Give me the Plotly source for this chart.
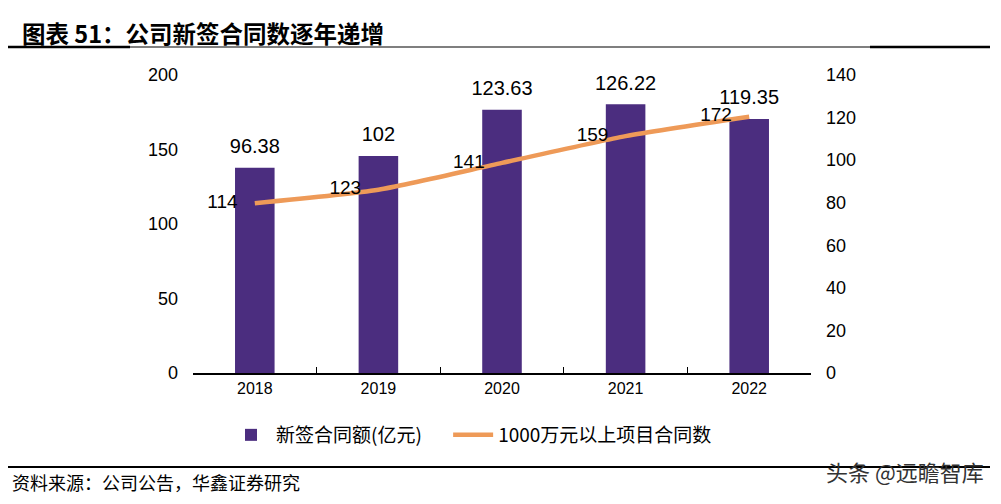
import plotly.graph_objects as go

years = ["2018", "2019", "2020", "2021", "2022"]
contract_amount = [96.38, 102, 123.63, 126.22, 119.35]   # 新签合同额(亿元), right axis
contract_count = [114, 123, 141, 159, 172]                # 1000万元以上项目合同数, left axis

OFF = 8  # browser body margin
W, H = 985, 488
L, R, T, B = 193 - OFF, 811 - OFF, 75 - OFF, 373 - OFF
pw, ph = R - L, B - T

def px(x):
    return (x - OFF - L) / pw

def py(y):
    return (B - (y - OFF)) / ph

CN = "Noto Sans CJK SC"
NUM = "Liberation Sans, Arial, sans-serif"
purple = "#4B2D7F"
orange = "#EE9A58"
clear = "rgba(0,0,0,0)"
NB = "\u00a0"

fig = go.Figure()
fig.add_trace(go.Bar(
    x=years, y=contract_amount, yaxis="y", name="新签合同额(亿元)" + NB * 5,
    marker=dict(color=purple, line=dict(width=0)), width=0.32,
))
# bar value labels (offset above the bar tops via an invisible marker)
fig.add_trace(go.Scatter(
    x=years, y=contract_amount, yaxis="y", mode="markers+text", showlegend=False,
    marker=dict(size=14, color=clear), hoverinfo="skip",
    text=[f"{v:g}" for v in contract_amount], textposition="top center",
    textfont=dict(family=NUM, size=20, color="#000"), cliponaxis=False,
))
fig.add_trace(go.Scatter(
    x=years, y=contract_count, yaxis="y2", name="1000万元以上项目合同数",
    mode="lines", line=dict(color=orange, width=4.5, shape="spline", smoothing=0.6),
))
fig.add_trace(go.Scatter(
    x=years, y=contract_count, yaxis="y2", mode="markers+text", showlegend=False,
    marker=dict(size=26, color=clear), hoverinfo="skip",
    text=[str(v) for v in contract_count], textposition="middle left",
    textfont=dict(family=NUM, size=19, color="#000"), cliponaxis=False,
))

shapes = [
    dict(type="line", xref="paper", yref="paper", x0=px(8), x1=px(990), y0=py(47), y1=py(47), line=dict(color="#000", width=1.2)),
    dict(type="line", xref="paper", yref="paper", x0=px(8), x1=px(130), y0=py(47), y1=py(47), line=dict(color="#000", width=2.5)),
    dict(type="line", xref="paper", yref="paper", x0=px(870), x1=px(990), y0=py(47), y1=py(47), line=dict(color="#000", width=2.5)),
    dict(type="line", xref="paper", yref="paper", x0=px(8), x1=px(990), y0=py(467), y1=py(467), line=dict(color="#000", width=2)),
]

annotations = [
    dict(text="<b>图表 51：公司新签合同数逐年递增</b>", xref="paper", yref="paper", x=px(20), y=py(33),
         xanchor="left", yanchor="middle", showarrow=False, font=dict(family=CN, size=23.5, color="#000")),
    dict(text="资料来源：公司公告，华鑫证券研究", xref="paper", yref="paper", x=px(10), y=py(482),
         xanchor="left", yanchor="middle", showarrow=False, font=dict(family=CN, size=18, color="#000")),
    dict(text="头条 @远瞻智库", xref="paper", yref="paper", x=px(986), y=py(471),
         xanchor="right", yanchor="middle", showarrow=False, font=dict(family=CN, size=22, color="#333")),
]

fig.update_layout(
    width=W, height=H, margin=dict(l=L, r=W - R, t=T, b=H - B, autoexpand=False),
    paper_bgcolor="white", plot_bgcolor="white",
    showlegend=True,
    legend=dict(orientation="h", x=px(226), y=py(435), xanchor="left", yanchor="middle",
                font=dict(family=CN, size=19, color="#000"), itemwidth=40, traceorder="normal"),
    xaxis=dict(type="category", showline=True, linecolor="#000", linewidth=1.5,
               ticks="inside", ticklen=6, tickcolor="#000", tickson="boundaries",
               tickfont=dict(family=NUM, size=16, color="#000"), showgrid=False, zeroline=False),
    yaxis=dict(range=[0, 140], dtick=20, side="right", showgrid=False, zeroline=False,
               showline=False, tickfont=dict(family=NUM, size=18, color="#000"), ticks="", ticklabelstandoff=14),
    yaxis2=dict(range=[0, 200], dtick=50, overlaying="y", side="left", showgrid=False, zeroline=False,
                showline=False, tickfont=dict(family=NUM, size=18, color="#000"), ticks="", ticklabelstandoff=14),
    shapes=shapes, annotations=annotations,
)

fig.write_html("out.html")
